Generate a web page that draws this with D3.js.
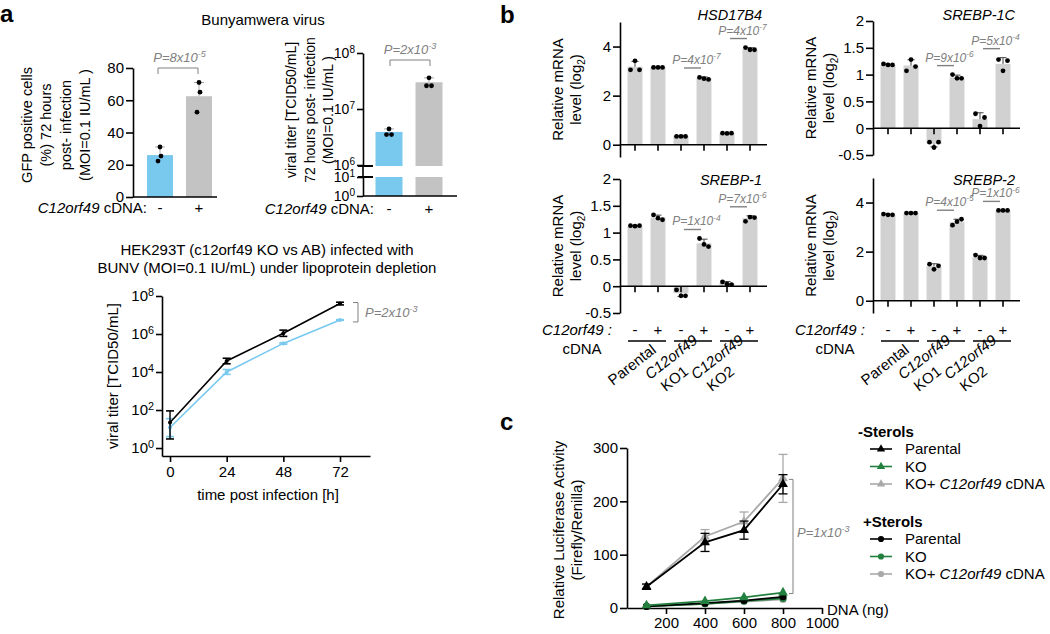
<!DOCTYPE html>
<html><head><meta charset="utf-8">
<script src="https://cdn.jsdelivr.net/npm/d3@7"></script>
<style>
body{margin:0;background:#fff}
svg text{font-family:"Liberation Sans", Arial, Helvetica, sans-serif}
</style></head><body>
<svg id="fig" width="1050" height="634"></svg>
<script>
// ================= DATA =================
const cdnaStates = ["-", "+"];
// panel a, top-left: GFP positive cells (%)
const gfpMean = [26, 62.5];
const gfpPts = [[25.4, 31, 22.3], [65, 71, 52.6]];
const gfpP = ["8", "-5"];
// panel a, top-right: viral titer TCID50/mL
const titerMean = [3.9e6, 3.0e7];
const titerPts = [[3.5e6, 4.4e6, 3.5e6], [2.6e7, 3.6e7, 2.6e7]];
const titerP = ["2", "-3"];
const titerTicksUpper = [1e6, 1e7, 1e8];
const titerTicksLower = [1, 10];
// panel a, bottom: time course
const timeH = [0, 24, 48, 72];
const timeTicks = [0, 24, 48, 72];
const titerAB = [2.2e1, 3.8e4, 1.1e6, 4.0e7];
const titerABLo = [3e0, 2.7e4, 7.5e5, 3.4e7];
const titerABHi = [9e1, 5.3e4, 1.6e6, 4.7e7];
const titerKO = [1.2e1, 1.0e4, 3.2e5, 5.5e6];
const titerKOLo = [4e0, 7.5e3, 2.9e5, 5.3e6];
const titerKOHi = [3.5e1, 1.35e4, 3.5e5, 5.7e6];
const timeP = ["2", "-3"];
const titerTicksTime = [1, 1e2, 1e4, 1e6, 1e8];
// panel b
const cellLines = [["Parental"], ["C12orf49", "KO1"], ["C12orf49", "KO2"]];
const geneNames = ["HSD17B4", "SREBP-1C", "SREBP-1", "SREBP-2"];
const hsdPts = [[3.05, 3.42, 3.05], [3.15, 3.15, 3.15], [0.34, 0.34, 0.34], [2.74, 2.69, 2.66], [0.47, 0.46, 0.47], [3.96, 3.87, 3.87]];
const hsdMean = [3.18, 3.17, 0.37, 2.72, 0.47, 3.9];
const hsdP = [["4", "-7"], ["4", "-7"]];
const srebp1cPts = [[1.2, 1.18, 1.18], [1.07, 1.28, 1.15], [-0.26, -0.36, -0.26], [1.0, 0.93, 0.93], [0.27, 0.04, 0.2], [1.28, 1.07, 1.26]];
const srebp1cMean = [1.18, 1.17, -0.29, 0.95, 0.17, 1.2];
const srebp1cP = [["9", "-6"], ["5", "-4"]];
const srebp1Pts = [[1.13, 1.12, 1.13], [1.33, 1.27, 1.24], [-0.07, -0.18, -0.18], [0.89, 0.78, 0.74], [0.08, 0.04, 0.03], [1.21, 1.29, 1.28]];
const srebp1Mean = [1.12, 1.28, -0.13, 0.8, 0.06, 1.27];
const srebp1P = [["1", "-4"], ["7", "-6"]];
const srebp2Pts = [[3.53, 3.5, 3.5], [3.57, 3.57, 3.57], [1.49, 1.28, 1.42], [3.08, 3.22, 3.32], [1.86, 1.74, 1.74], [3.68, 3.68, 3.68]];
const srebp2Mean = [3.5, 3.57, 1.4, 3.2, 1.78, 3.68];
const srebp2P = [["4", "-5"], ["1", "-6"]];
const ticksLog2Wide = [0, 2, 4];
const ticksLog2Narrow = [-0.5, 0, 0.5, 1, 1.5, 2];
// panel c
const dnaNg = [100, 400, 600, 800];
const dnaTicks = [200, 400, 600, 800, 1000];
const lucTicks = [0, 100, 200, 300];
const lucParentalMinus = [40, 123, 146, 232];
const lucParentalMinusErr = [5, 17, 17, 18];
const lucKOMinus = [5, 13, 20, 29];
const lucKOMinusErr = [1, 2, 2, 2];
const lucRescueMinus = [40, 134, 162, 243];
const lucRescueMinusErr = [4, 13, 18, 45];
const lucParentalPlus = [3, 9, 14, 21];
const lucKOPlus = [3, 8, 13, 18];
const lucRescuePlus = [3, 8, 12, 16];
const lucP = ["1", "-3"];

// ================= DRAWING =================
const svg = d3.select("#fig");
const BLUE = "#79c9ef", GRAYA = "#c3c3c3", GRAYB = "#d1d1d1", PGRAY = "#808080";
const GREEN = "#23803f", LGRAY = "#a9a9a9";
const FS = 15;

function styleAxis(g, fs) {
  g.attr("font-size", fs || FS).attr("font-family", null);
  g.selectAll("path,line").attr("stroke", "#000").attr("stroke-width", 1.6);
  g.selectAll("text").attr("fill", "#000");
}
function pow10(g) {
  g.selectAll(".tick text").each(function (d) {
    const t = d3.select(this); const e = Math.round(Math.log10(d));
    t.text(null);
    t.append("tspan").text("10");
    t.append("tspan").attr("dy", "-0.45em").attr("font-size", "0.72em").text(e);
  });
}
function pText(parent, x, y, pr, fs, anchor) {
  const t = parent.append("text").attr("x", x).attr("y", y).attr("font-size", fs)
    .attr("font-style", "italic").attr("fill", PGRAY).attr("text-anchor", anchor || "middle");
  t.append("tspan").text("P=" + pr[0] + "x10");
  t.append("tspan").attr("dy", -fs * 0.4).attr("font-size", fs * 0.7).text(pr[1]);
  return t;
}
function rotLabel(lines, cy, baseX, size) {
  lines.forEach((l, i) => {
    svg.append("text").attr("transform", `translate(${baseX[i]},${cy}) rotate(-90)`)
      .attr("text-anchor", "middle").attr("font-size", size || FS).text(l);
  });
}
function panelLetter(t, x, y) {
  svg.append("text").attr("x", x).attr("y", y).attr("font-size", 24).attr("font-weight", "bold").text(t);
}
panelLetter("a", 0, 22); panelLetter("b", 500, 23); panelLetter("c", 500, 430);

// ---------- a top-left ----------
svg.append("text").attr("x", 263).attr("y", 25).attr("text-anchor", "middle").attr("font-size", FS).text("Bunyamwera virus");
{
  const ax = 133;
  const y = d3.scaleLinear().domain([0, 80]).range([197, 68]);
  const x = d3.scalePoint().domain(cdnaStates).range([160, 199]);
  const g = svg.append("g");
  g.selectAll("rect").data(gfpMean).join("rect")
    .attr("x", (d, i) => x(cdnaStates[i]) - 13).attr("width", 26)
    .attr("y", d => y(d)).attr("height", d => y(0) - y(d))
    .attr("fill", (d, i) => i ? GRAYA : BLUE);
  gfpPts.forEach((pts, i) => {
    const hi = d3.max(pts);
    g.append("line").attr("x1", x(cdnaStates[i])).attr("x2", x(cdnaStates[i])).attr("y1", y(gfpMean[i])).attr("y2", y(hi)).attr("stroke", "#aaa");
    g.append("line").attr("x1", x(cdnaStates[i]) - 5).attr("x2", x(cdnaStates[i]) + 5).attr("y1", y(hi)).attr("y2", y(hi)).attr("stroke", "#aaa");
    g.selectAll(null).data(pts).join("circle").attr("cx", (d, k) => x(cdnaStates[i]) + [1, 0, -2][k])
      .attr("cy", d => y(d)).attr("r", 2.4).attr("fill", "#000");
  });
  g.append("g").attr("transform", `translate(${ax},0)`)
    .call(d3.axisLeft(y).tickValues([0, 20, 40, 60, 80]).tickSize(7).tickSizeOuter(0).tickPadding(2)).call(styleAxis);
  g.append("line").attr("x1", ax).attr("x2", 217).attr("y1", y(0)).attr("y2", y(0)).attr("stroke", "#000").attr("stroke-width", 1.6);
  cdnaStates.forEach(s => g.append("text").attr("x", x(s)).attr("y", 213).attr("text-anchor", "middle").attr("font-size", FS).text(s));
  const lt = g.append("text").attr("x", 147).attr("y", 213).attr("text-anchor", "end").attr("font-size", FS);
  lt.append("tspan").attr("font-style", "italic").text("C12orf49"); lt.append("tspan").text(" cDNA:");
  const by = y(80);
  g.append("path").attr("d", `M${x("-")-2},${by + 6}V${by}H${x("+")-1}V${by + 6}`).attr("fill", "none").attr("stroke", PGRAY);
  pText(g, (x("-") + x("+")) / 2, by - 6, gfpP, 13);
  rotLabel(["GFP positive cells", "(%) 72 hours", "post- infection", "(MOI=0.1 IU/mL )"], 125, [32, 51, 71, 90], 14.5);
}

// ---------- a top-right ----------
{
  const ax = 363;
  const yU = d3.scaleLog().domain([1e6, 1e8]).range([165, 53]);
  const yL = d3.scaleLog().domain([1, 10]).range([196, 177]);
  const x = d3.scalePoint().domain(cdnaStates).range([389, 429]);
  const g = svg.append("g");
  titerMean.forEach((m, i) => {
    const cx = x(cdnaStates[i]);
    g.append("rect").attr("x", cx - 13.5).attr("width", 27).attr("y", yU(m)).attr("height", yU(1e6) + 1 - yU(m)).attr("fill", i ? GRAYA : BLUE);
    g.append("rect").attr("x", cx - 13.5).attr("width", 27).attr("y", yL(10)).attr("height", yL(1) - yL(10)).attr("fill", i ? GRAYA : BLUE);
    const hi = d3.max(titerPts[i]);
    g.append("line").attr("x1", cx).attr("x2", cx).attr("y1", yU(m)).attr("y2", yU(hi)).attr("stroke", "#aaa");
    g.append("line").attr("x1", cx - 5).attr("x2", cx + 5).attr("y1", yU(hi)).attr("y2", yU(hi)).attr("stroke", "#aaa");
    g.selectAll(null).data(titerPts[i]).join("circle").attr("cx", (d, k) => cx + [-2.5, 0, 2.5][k])
      .attr("cy", d => yU(d)).attr("r", 2.4).attr("fill", "#000");
  });
  g.append("g").attr("transform", `translate(${ax},0)`)
    .call(d3.axisLeft(yU).tickValues(titerTicksUpper).tickSize(6).tickSizeOuter(0).tickPadding(2)).call(g2 => styleAxis(g2, 14)).call(pow10);
  g.append("g").attr("transform", `translate(${ax},0)`)
    .call(d3.axisLeft(yL).tickValues(titerTicksLower).tickSize(6).tickSizeOuter(0).tickPadding(2)).call(g2 => styleAxis(g2, 14)).call(pow10);
  g.append("line").attr("x1", ax).attr("x2", ax).attr("y1", yU(1e6)).attr("y2", yL(10)).attr("stroke", "#000").attr("stroke-width", 1.6);
  [yU(1e6) + 1, yL(10)].forEach(yy => g.append("line").attr("x1", ax - 5).attr("x2", ax + 10).attr("y1", yy).attr("y2", yy).attr("stroke", "#000").attr("stroke-width", 2));
  g.append("line").attr("x1", ax).attr("x2", 457).attr("y1", 196).attr("y2", 196).attr("stroke", "#000").attr("stroke-width", 1.6);
  cdnaStates.forEach(s => g.append("text").attr("x", x(s)).attr("y", 214).attr("text-anchor", "middle").attr("font-size", FS).text(s));
  const lt = g.append("text").attr("x", 374).attr("y", 214).attr("text-anchor", "end").attr("font-size", FS);
  lt.append("tspan").attr("font-style", "italic").text("C12orf49"); lt.append("tspan").text(" cDNA:");
  const by = 60;
  g.append("path").attr("d", `M${x("-") + 1},${by + 6}V${by}H${x("+") + 1}V${by + 6}`).attr("fill", "none").attr("stroke", PGRAY);
  pText(g, (x("-") + x("+")) / 2 + 1, by - 6, titerP, 13);
  rotLabel(["viral titer [TCID50/mL]", "72 hours post- infection", "(MOI=0.1 IU/mL )"], 110, [296, 315, 333], 14);
}

// ---------- a bottom ----------
{
  const t1 = svg.append("text").attr("text-anchor", "middle").attr("font-size", FS);
  t1.append("tspan").attr("x", 267).attr("y", 255).text("HEK293T (c12orf49 KO vs AB) infected with");
  t1.append("tspan").attr("x", 267).attr("y", 273).text("BUNV (MOI=0.1 IU/mL) under lipoprotein depletion");
  const x = d3.scaleLinear().domain([-3.4, 84.7]).range([162, 370]);
  const y = d3.scaleLog().domain([Math.pow(10, -0.42), 1e8]).range([456, 296]);
  const g = svg.append("g");
  g.append("g").attr("transform", `translate(162,0)`)
    .call(d3.axisLeft(y).tickValues(titerTicksTime).tickSize(6).tickSizeOuter(0).tickPadding(2)).call(styleAxis).call(pow10);
  g.append("g").attr("transform", `translate(0,456)`)
    .call(d3.axisBottom(x).tickValues(timeTicks).tickSize(6).tickSizeOuter(0).tickPadding(4)).call(styleAxis);
  g.append("text").attr("x", 268).attr("y", 500).attr("text-anchor", "middle").attr("font-size", FS).text("time post infection [h]");
  rotLabel(["viral titer [TCID50/mL]"], 376, [118]);
  const series = [
    { v: titerKO, lo: titerKOLo, hi: titerKOHi, c: BLUE },
    { v: titerAB, lo: titerABLo, hi: titerABHi, c: "#000" }
  ];
  series.forEach(s => {
    g.append("path").datum(s.v).attr("fill", "none").attr("stroke", s.c).attr("stroke-width", 1.6)
      .attr("d", d3.line().x((d, i) => x(timeH[i])).y(d => y(d)));
    s.v.forEach((d, i) => {
      const cx = x(timeH[i]);
      g.append("line").attr("x1", cx).attr("x2", cx).attr("y1", y(s.lo[i])).attr("y2", y(s.hi[i])).attr("stroke", s.c).attr("stroke-width", 1.4);
      [s.lo[i], s.hi[i]].forEach(e => g.append("line").attr("x1", cx - 4).attr("x2", cx + 4).attr("y1", y(e)).attr("y2", y(e)).attr("stroke", s.c).attr("stroke-width", 1.6));
      g.append("circle").attr("cx", cx).attr("cy", y(d)).attr("r", 2).attr("fill", s.c);
    });
  });
  const yt = y(titerAB[3]) - 1, yb = y(titerKO[3]) + 2;
  g.append("path").attr("d", `M353,${yt}H358V${yb}H353`).attr("fill", "none").attr("stroke", PGRAY);
  pText(g, 365, (yt + yb) / 2 + 5, timeP, 13, "start");
}

// ---------- b ----------
function geneChart(cfg) {
  const g = svg.append("g");
  const y = d3.scaleLinear().domain(cfg.domain).range([cfg.bottom, cfg.top]);
  const idx = d3.range(cfg.mean.length);
  const x = d3.scaleBand().domain(idx).range([cfg.ax + 3.5, cfg.ax + 141.5]).paddingInner(0.35).paddingOuter(0.175);
  const bw = x.bandwidth();
  const c = i => x(i) + bw / 2;
  g.selectAll("rect").data(cfg.mean).join("rect")
    .attr("x", (d, i) => x(i)).attr("width", bw)
    .attr("y", d => Math.min(y(d), y(0))).attr("height", d => Math.abs(y(0) - y(d))).attr("fill", GRAYB);
  cfg.pts.forEach((pts, i) => {
    const sd = d3.deviation(pts), m = cfg.mean[i];
    const e = m >= 0 ? m + sd : m - sd;
    g.append("line").attr("x1", c(i)).attr("x2", c(i)).attr("y1", y(m)).attr("y2", y(e)).attr("stroke", "#444").attr("stroke-width", 1);
    g.append("line").attr("x1", c(i) - 3.5).attr("x2", c(i) + 3.5).attr("y1", y(e)).attr("y2", y(e)).attr("stroke", "#444").attr("stroke-width", 1);
    g.selectAll(null).data(pts).join("circle").attr("cx", (d, k) => c(i) + [-4.5, 0, 4.5][k]).attr("cy", d => y(d)).attr("r", 2.4).attr("fill", "#000");
  });
  g.append("g").attr("transform", `translate(${cfg.ax},0)`)
    .call(d3.axisLeft(y).tickValues(cfg.ticks).tickFormat(v => String(v)).tickSize(7).tickSizeOuter(0).tickPadding(2)).call(styleAxis);
  g.append("line").attr("x1", cfg.ax).attr("x2", cfg.ax + 147).attr("y1", y(0)).attr("y2", y(0)).attr("stroke", "#000").attr("stroke-width", 1.6);
  idx.forEach(i => g.append("line").attr("x1", c(i)).attr("x2", c(i)).attr("y1", y(0)).attr("y2", y(0) + 6).attr("stroke", "#000").attr("stroke-width", 1.6));
  g.append("text").attr("x", cfg.ax + 142).attr("y", cfg.titleY).attr("text-anchor", "end").attr("font-size", 14.5).attr("font-style", "italic").text(cfg.name);
  [[2, 3], [4, 5]].forEach((pr, k) => {
    const mx = d3.max(cfg.pts[pr[1]].concat(cfg.pts[pr[0]]).concat([cfg.mean[pr[1]] + d3.deviation(cfg.pts[pr[1]])]));
    const ly = y(mx) - 9;
    g.append("line").attr("x1", c(pr[0]) + 3).attr("x2", c(pr[1]) - 3).attr("y1", ly).attr("y2", ly).attr("stroke", PGRAY).attr("stroke-width", 1.4);
    pText(g, (c(pr[0]) + c(pr[1])) / 2 + 4, ly - 4, cfg.p[k], 12);
  });
  const my = (cfg.top + cfg.bottom) / 2;
  svg.append("text").attr("transform", `translate(${cfg.ax - 57},${my}) rotate(-90)`).attr("text-anchor", "middle").attr("font-size", FS).text("Relative mRNA");
  const l2 = svg.append("text").attr("transform", `translate(${cfg.ax - 39},${my}) rotate(-90)`).attr("text-anchor", "middle").attr("font-size", FS);
  l2.append("tspan").text("level (log");
  l2.append("tspan").attr("dy", 4).attr("font-size", 10).text("2");
  l2.append("tspan").attr("dy", -4).text(")");
  if (cfg.bottomLabels) {
    const lt = g.append("text").attr("x", cfg.ax - 8).attr("y", 335).attr("text-anchor", "end").attr("font-size", FS);
    lt.append("tspan").attr("font-style", "italic").text("C12orf49 :");
    g.append("text").attr("x", cfg.ax - 38).attr("y", 354).attr("text-anchor", "middle").attr("font-size", FS).text("cDNA");
    idx.forEach(i => g.append("text").attr("x", c(i)).attr("y", 335).attr("text-anchor", "middle").attr("font-size", FS).text(cdnaStates[i % 2]));
    cellLines.forEach((cl, j) => {
      const a = c(2 * j), b = c(2 * j + 1), gc = (a + b) / 2;
      g.append("line").attr("x1", a - 7).attr("x2", b + 8).attr("y1", 341).attr("y2", 341).attr("stroke", "#000").attr("stroke-width", 1.5);
      const single = cl.length === 1;
      const t = g.append("text").attr("transform", `translate(${gc + (single ? -33.5 : -42.5)},${single ? 386 : 380}) rotate(-38)`).attr("font-size", FS);
      cl.forEach((line, li) => {
        t.append("tspan").attr("x", li ? 5 : 0).attr("y", li ? 19 : 0).attr("font-style", line.startsWith("C12") ? "italic" : null).text(line);
      });
    });
  }
}
geneChart({ ax: 620, top: 22, bottom: 157, domain: [-0.5, 5], ticks: ticksLog2Wide, name: geneNames[0], mean: hsdMean, pts: hsdPts, p: hsdP, titleY: 20 });
geneChart({ ax: 873, top: 21, bottom: 155, domain: [-0.5, 2], ticks: ticksLog2Narrow, name: geneNames[1], mean: srebp1cMean, pts: srebp1cPts, p: srebp1cP, titleY: 20 });
geneChart({ ax: 620, top: 179, bottom: 313, domain: [-0.5, 2], ticks: ticksLog2Narrow, name: geneNames[2], mean: srebp1Mean, pts: srebp1Pts, p: srebp1P, titleY: 185, bottomLabels: true });
geneChart({ ax: 873, top: 178, bottom: 313, domain: [-0.5, 5], ticks: ticksLog2Wide, name: geneNames[3], mean: srebp2Mean, pts: srebp2Pts, p: srebp2P, titleY: 185, bottomLabels: true });

// ---------- c ----------
{
  const x = d3.scaleLinear().domain([0, 1000]).range([627, 822]);
  const y = d3.scaleLinear().domain([0, 300]).range([608, 448]);
  const g = svg.append("g");
  g.append("g").attr("transform", `translate(627,0)`)
    .call(d3.axisLeft(y).tickValues(lucTicks).tickSize(7).tickSizeOuter(0).tickPadding(2)).call(styleAxis);
  g.append("g").attr("transform", `translate(0,608)`)
    .call(d3.axisBottom(x).tickValues(dnaTicks).tickFormat(d3.format("d")).tickSize(6).tickSizeOuter(0).tickPadding(3)).call(styleAxis);
  g.append("text").attr("x", 827).attr("y", 615).attr("font-size", FS).text("DNA (ng)");
  rotLabel(["Relative Luciferase Activity", "(Firefly/Renilla)"], 530, [564, 582]);
  const tri = d3.symbol(d3.symbolTriangle).size(42)();
  const cir = d3.symbol(d3.symbolCircle).size(40)();
  const series = [
    { v: lucRescuePlus, c: LGRAY, s: cir },
    { v: lucKOPlus, c: GREEN, s: cir },
    { v: lucParentalPlus, c: "#000", s: cir },
    { v: lucRescueMinus, e: lucRescueMinusErr, c: LGRAY, s: tri },
    { v: lucKOMinus, e: lucKOMinusErr, c: GREEN, s: tri },
    { v: lucParentalMinus, e: lucParentalMinusErr, c: "#000", s: tri }
  ];
  series.forEach(s => {
    g.append("path").datum(s.v).attr("fill", "none").attr("stroke", s.c).attr("stroke-width", 1.8)
      .attr("d", d3.line().x((d, i) => x(dnaNg[i])).y(d => y(d)));
    s.v.forEach((d, i) => {
      const cx = x(dnaNg[i]);
      if (s.e && s.e[i] > 2) {
        g.append("line").attr("x1", cx).attr("x2", cx).attr("y1", y(d - s.e[i])).attr("y2", y(d + s.e[i])).attr("stroke", s.c).attr("stroke-width", 1.3);
        [d - s.e[i], d + s.e[i]].forEach(e => g.append("line").attr("x1", cx - 4.5).attr("x2", cx + 4.5).attr("y1", y(e)).attr("y2", y(e)).attr("stroke", s.c).attr("stroke-width", 1.3));
      }
      g.append("path").attr("d", s.s).attr("transform", `translate(${cx},${y(d)})`).attr("fill", s.c);
    });
  });
  const bt = y(lucRescueMinus[3]) + 1, bb = y(lucKOMinus[3]) + 1;
  g.append("path").attr("d", `M789,${bt}H793V${bb}H789`).attr("fill", "none").attr("stroke", PGRAY);
  pText(g, 797, (bt + bb) / 2 + 1, lucP, 13, "start");
  const legend = [
    { head: "-Sterols", hx: 858, hy: 437, s: tri, rows: [["Parental", "#000"], ["KO", GREEN], ["KO+ ", LGRAY, true]] },
    { head: "+Sterols", hx: 863, hy: 527, s: cir, rows: [["Parental", "#000"], ["KO", GREEN], ["KO+ ", LGRAY, true]] }
  ];
  legend.forEach(L => {
    svg.append("text").attr("x", L.hx).attr("y", L.hy).attr("font-size", FS).attr("font-weight", "bold").text(L.head);
    L.rows.forEach((r, i) => {
      const by = L.hy + 17 + i * 17.5;
      svg.append("line").attr("x1", 870).attr("x2", 892).attr("y1", by - 5).attr("y2", by - 5).attr("stroke", r[1]).attr("stroke-width", 1.6);
      svg.append("path").attr("d", L.s === tri ? d3.symbol(d3.symbolTriangle).size(30)() : d3.symbol(d3.symbolCircle).size(30)())
        .attr("transform", `translate(881,${by - 5})`).attr("fill", r[1]);
      const t = svg.append("text").attr("x", 905).attr("y", by).attr("font-size", FS);
      t.append("tspan").text(r[0]);
      if (r[2]) { t.append("tspan").attr("font-style", "italic").text("C12orf49"); t.append("tspan").text(" cDNA"); }
    });
  });
}
</script>
</body></html>
